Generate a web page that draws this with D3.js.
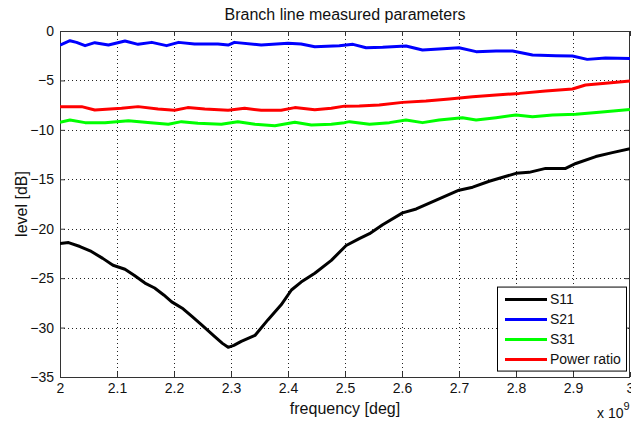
<!DOCTYPE html>
<html>
<head>
<meta charset="utf-8">
<script src="https://cdn.jsdelivr.net/npm/d3@7"></script>
<style>
  body { margin: 0; background: #fff; }
  svg { display: block; font-family: "Liberation Sans", Arial, Helvetica, sans-serif; }
</style>
</head>
<body>
<svg id="chart" width="631" height="421"></svg>
<script>
// frequency in GHz (axis shows x 10^9), level in dB
var s11 = [[2.000,-21.5],[2.015,-21.4],[2.035,-21.8],[2.055,-22.3],[2.075,-23.0],[2.093,-23.7],[2.114,-24.1],
    [2.130,-24.7],[2.149,-25.5],[2.166,-26.0],[2.182,-26.7],[2.196,-27.4],[2.216,-28.1],[2.232,-28.9],
    [2.248,-29.7],[2.271,-30.9],[2.285,-31.6],[2.295,-32.0],[2.305,-31.8],[2.318,-31.4],[2.342,-30.8],
    [2.365,-29.2],[2.388,-27.7],[2.406,-26.2],[2.423,-25.4],[2.447,-24.5],[2.476,-23.2],[2.502,-21.7],
    [2.525,-21.0],[2.543,-20.5],[2.566,-19.6],[2.601,-18.4],[2.625,-18.0],[2.660,-17.1],[2.700,-16.1],
    [2.724,-15.8],[2.753,-15.2],[2.800,-14.4],[2.823,-14.3],[2.852,-13.9],[2.887,-13.9],[2.905,-13.4],
    [2.940,-12.7],[2.969,-12.3],[3.000,-11.9]];

var s21 = [[2.000,-1.42],[2.0175,-0.98],[2.029,-1.15],[2.044,-1.48],[2.061,-1.18],[2.085,-1.42],
    [2.114,-1.01],[2.137,-1.35],[2.161,-1.15],[2.187,-1.48],[2.208,-1.15],[2.236,-1.32],[2.277,-1.32],
    [2.295,-1.42],[2.306,-1.15],[2.353,-1.42],[2.400,-1.25],[2.423,-1.32],[2.447,-1.59],[2.490,-1.50],
    [2.514,-1.35],[2.537,-1.69],[2.566,-1.65],[2.607,-1.52],[2.636,-1.92],[2.665,-1.82],[2.700,-1.69],
    [2.730,-2.09],[2.765,-2.02],[2.794,-2.02],[2.829,-2.43],[2.870,-2.50],[2.899,-2.53],[2.925,-2.87],
    [2.957,-2.72],[3.000,-2.77]];

var s31 = [[2.000,-9.24],[2.0175,-9.00],[2.044,-9.27],[2.079,-9.27],[2.120,-9.07],[2.149,-9.24],
    [2.190,-9.44],[2.213,-9.17],[2.242,-9.34],[2.283,-9.44],[2.312,-9.17],[2.342,-9.44],[2.377,-9.58],
    [2.412,-9.24],[2.441,-9.51],[2.476,-9.44],[2.499,-9.27],[2.508,-9.17],[2.543,-9.44],[2.578,-9.27],
    [2.607,-9.00],[2.636,-9.27],[2.665,-9.00],[2.706,-8.77],[2.730,-9.00],[2.765,-8.77],[2.800,-8.50],
    [2.829,-8.67],[2.864,-8.50],[2.905,-8.43],[2.946,-8.23],[3.000,-7.93]];

var powerRatio = [[2.000,-7.65],[2.038,-7.65],[2.061,-7.99],[2.108,-7.82],[2.137,-7.65],[2.172,-7.89],
    [2.201,-8.02],[2.224,-7.75],[2.254,-7.89],[2.295,-8.02],[2.324,-7.82],[2.353,-8.02],[2.388,-8.02],
    [2.412,-7.75],[2.447,-7.96],[2.476,-7.82],[2.499,-7.60],[2.525,-7.59],[2.560,-7.49],[2.601,-7.22],
    [2.642,-7.08],[2.683,-6.88],[2.724,-6.64],[2.765,-6.47],[2.806,-6.31],[2.852,-6.07],[2.899,-5.87],
    [2.922,-5.46],[2.957,-5.29],[3.000,-5.06]];

var seriesNames = ["S11", "S21", "S31", "Power ratio"];
var seriesColors = ["#000000", "#0000ff", "#00ff00", "#ff0000"];
var xTicks = [2, 2.1, 2.2, 2.3, 2.4, 2.5, 2.6, 2.7, 2.8, 2.9, 3];
var yTicks = [0, -5, -10, -15, -20, -25, -30, -35];

var svg = d3.select("#chart"),
    margin = {top: 31, right: 1, bottom: 44, left: 60},
    w = +svg.attr("width") - margin.left - margin.right,
    h = +svg.attr("height") - margin.top - margin.bottom;

var x = d3.scaleLinear().domain([2, 3]).range([0, w]);
var y = d3.scaleLinear().domain([-35, 0]).range([h, 0]);

var g = svg.append("g").attr("transform", "translate(" + margin.left + "," + margin.top + ")");

g.append("clipPath").attr("id", "clip")
    .append("rect").attr("width", w).attr("height", h);

// dotted grid
g.append("g").selectAll("line")
    .data(xTicks.slice(1, -1))
    .enter().append("line")
    .attr("x1", function (d) { return Math.round(x(d)) + 0.5; })
    .attr("x2", function (d) { return Math.round(x(d)) + 0.5; })
    .attr("y1", 0).attr("y2", h)
    .attr("stroke", "#222").attr("stroke-dasharray", "1,3");

g.append("g").selectAll("line")
    .data(yTicks.slice(1, -1))
    .enter().append("line")
    .attr("y1", function (d) { return Math.round(y(d)) + 0.5; })
    .attr("y2", function (d) { return Math.round(y(d)) + 0.5; })
    .attr("x1", 0).attr("x2", w)
    .attr("stroke", "#222").attr("stroke-dasharray", "1,3");

// axes, ticks pointing inward like matlab
var xAxis = g.append("g").attr("transform", "translate(0," + h + ")")
    .call(d3.axisBottom(x).tickValues(xTicks).tickSize(-5).tickPadding(6).tickFormat(d3.format("")));
var xAxisTop = g.append("g")
    .call(d3.axisTop(x).tickValues(xTicks).tickSize(-5).tickFormat(""));
var yAxis = g.append("g")
    .call(d3.axisLeft(y).tickValues(yTicks).tickSize(-5).tickPadding(6));
var yAxisRight = g.append("g").attr("transform", "translate(" + w + ",0)")
    .call(d3.axisRight(y).tickValues(yTicks).tickSize(-5).tickFormat(""));

g.selectAll(".domain").remove();
g.selectAll(".tick line").attr("stroke", "#333");
g.selectAll(".tick text").attr("font-size", "14px").attr("fill", "#111")
    .attr("font-family", "'Liberation Sans', Arial, sans-serif");

g.append("rect")
    .attr("x", 0.5).attr("y", 0.5)
    .attr("width", w - 1).attr("height", h)
    .attr("fill", "none").attr("stroke", "#333");

// curves
var line = d3.line()
    .x(function (d) { return x(d[0]); })
    .y(function (d) { return y(d[1]); });

var allSeries = [s11, s21, s31, powerRatio];
g.append("g").attr("clip-path", "url(#clip)")
    .selectAll("path")
    .data(allSeries)
    .enter().append("path")
    .attr("d", line)
    .attr("fill", "none")
    .attr("stroke", function (d, i) { return seriesColors[i]; })
    .attr("stroke-width", 3)
    .attr("stroke-linejoin", "round");

// title and labels
svg.append("text")
    .attr("x", margin.left + w / 2).attr("y", 20)
    .attr("text-anchor", "middle").attr("font-size", "16px").attr("fill", "#111")
    .text("Branch line measured parameters");

svg.append("text")
    .attr("x", margin.left + w / 2).attr("y", 414)
    .attr("text-anchor", "middle").attr("font-size", "16px").attr("fill", "#111")
    .text("frequency [deg]");

svg.append("text")
    .attr("transform", "translate(27," + (margin.top + h / 2) + ") rotate(-90)")
    .attr("text-anchor", "middle").attr("font-size", "16px").attr("fill", "#111")
    .text("level [dB]");

var expo = svg.append("text")
    .attr("x", 597).attr("y", 418)
    .attr("font-size", "14px").attr("fill", "#111");
expo.append("tspan").text("x 10");
expo.append("tspan").attr("dy", -8).attr("font-size", "11px").text("9");

// legend
var legend = g.append("g").attr("transform", "translate(" + (x(2.8) - 19) + "," + (y(-30) - 41) + ")");
legend.append("rect")
    .attr("x", 0.5).attr("y", 0.5)
    .attr("width", 129).attr("height", 84)
    .attr("fill", "#fff").attr("stroke", "#000");

var item = legend.selectAll(".item")
    .data(seriesNames)
    .enter().append("g")
    .attr("transform", function (d, i) { return "translate(0," + (13 + i * 20) + ")"; });

item.append("line")
    .attr("x1", 8).attr("x2", 50)
    .attr("stroke", function (d, i) { return seriesColors[i]; })
    .attr("stroke-width", 3);

item.append("text")
    .attr("x", 53).attr("dy", "0.35em")
    .attr("font-size", "14px").attr("fill", "#111")
    .text(function (d) { return d; });
</script>
</body>
</html>
